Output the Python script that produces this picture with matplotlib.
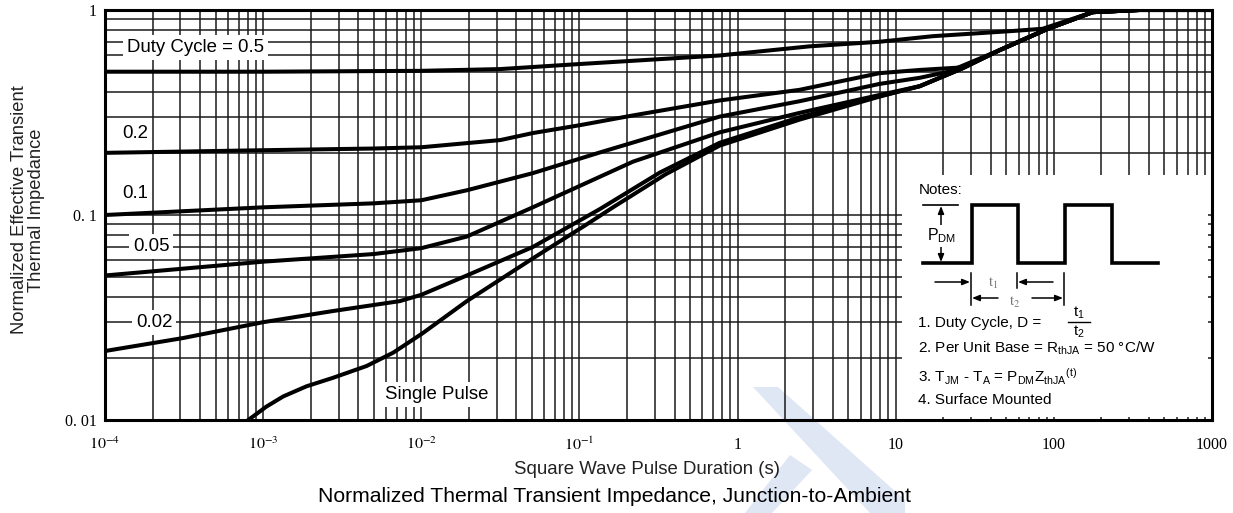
import matplotlib
matplotlib.use('Agg')
import matplotlib.pyplot as plt
from matplotlib.patches import Polygon
from matplotlib.ticker import NullFormatter

plt.rcParams['font.family'] = ['Liberation Sans', 'DejaVu Sans']
plt.rcParams['mathtext.fontset'] = 'custom'
plt.rcParams['mathtext.rm'] = 'Liberation Sans'
plt.rcParams['mathtext.it'] = 'Liberation Sans:italic'
plt.rcParams['mathtext.bf'] = 'Liberation Sans:bold'

# square wave pulse duration (s) vs normalized transient thermal impedance
t_d05 = [1e-4, 1e-3, 1e-2, 0.0316, 0.1, 0.77, 2.86, 7.9, 17.1, 55, 85, 176, 347, 1000]
z_d05 = [0.50, 0.50, 0.505, 0.515, 0.545, 0.60, 0.665, 0.70, 0.745, 0.79, 0.81, 0.976, 1.0, 1.0]

t_d02 = [1e-4, 1e-3, 5e-3, 1e-2, 0.0316, 0.0507, 0.1, 0.218, 0.77, 2.47, 7.9, 14.2, 26.5, 45, 90, 176, 347, 1000]
z_d02 = [0.201, 0.207, 0.211, 0.214, 0.232, 0.251, 0.274, 0.306, 0.362, 0.408, 0.492, 0.51, 0.525, 0.635, 0.805, 0.976, 1.0, 1.0]

t_d01 = [1e-4, 1e-3, 5e-3, 1e-2, 0.0194, 0.0507, 0.135, 0.77, 2.47, 7.9, 14.2, 21.5, 45, 90, 176, 347, 1000]
z_d01 = [0.100, 0.109, 0.114, 0.118, 0.132, 0.160, 0.202, 0.302, 0.359, 0.436, 0.467, 0.50, 0.635, 0.805, 0.976, 1.0, 1.0]

t_d005 = [1e-4, 1e-3, 5e-3, 1e-2, 0.0194, 0.0507, 0.218, 0.77, 2.47, 7.9, 14.2, 26.5, 45, 90, 176, 347, 1000]
z_d005 = [0.0507, 0.0592, 0.0645, 0.0689, 0.0785, 0.109, 0.182, 0.253, 0.315, 0.385, 0.425, 0.52, 0.635, 0.805, 0.976, 1.0, 1.0]

t_d002 = [1e-4, 3.11e-4, 1e-3, 2.76e-3, 7.3e-3, 1e-2, 0.0194, 0.0507, 0.135, 0.322, 0.77, 2.47, 7.9, 14.2, 26.5, 45, 90, 176, 347, 1000]
z_d002 = [0.0217, 0.0251, 0.0300, 0.034, 0.038, 0.0408, 0.0507, 0.0698, 0.107, 0.161, 0.225, 0.30, 0.38, 0.425, 0.52, 0.635, 0.805, 0.976, 1.0, 1.0]

t_single = [8.05e-4, 1.05e-3, 1.34e-3, 1.88e-3, 2.77e-3, 4.51e-3, 6.64e-3, 1.02e-2, 0.0194, 0.0507, 0.107, 0.163, 0.351, 0.77, 2.47, 7.9, 14.2, 26.5, 45, 90, 176, 347, 1000]
z_single = [0.0100, 0.01163, 0.01303, 0.0146, 0.01607, 0.01834, 0.0213, 0.0265, 0.038, 0.0614, 0.0883, 0.109, 0.158, 0.218, 0.292, 0.378, 0.425, 0.52, 0.635, 0.805, 0.976, 1.0, 1.0]

curves = [(t_d05, z_d05), (t_d02, z_d02), (t_d01, z_d01),
          (t_d005, z_d005), (t_d002, z_d002), (t_single, z_single)]

# curve labels: text, x, y
curve_labels = [
    ("Duty Cycle = 0.5", 1.38e-4, 0.657),
    ("0.2", 1.28e-4, 0.249),
    ("0.1", 1.28e-4, 0.128),
    ("0.05", 1.5e-4, 0.07),
    ("0.02", 1.57e-4, 0.03),
    ("Single Pulse", 5.9e-3, 0.0133),
]

x_ticks = [1e-4, 1e-3, 1e-2, 1e-1, 1, 10, 100, 1000]
x_ticklabels = [r'$10^{-4}$', r'$10^{-3}$', r'$10^{-2}$', r'$10^{-1}$', '1', '10', '100', '1000']
y_ticks = [0.01, 0.1, 1]
y_ticklabels = ['0. 01', '0. 1', '1']

W, H = 1233, 513
fig = plt.figure(figsize=(W / 100, H / 100), dpi=100)
fig.patch.set_facecolor('white')


def fpx(pts):
    return [(x / W, 1 - y / H) for x, y in pts]


# faint logo in the background
wm = '#dfe7f5'
fig.patches.append(Polygon(fpx([(753, 387), (778, 387), (905, 500), (905, 513), (870, 513)]),
                           closed=True, transform=fig.transFigure, facecolor=wm,
                           edgecolor='none', zorder=-5))
fig.patches.append(Polygon(fpx([(790, 455), (812, 470), (772, 513), (745, 513)]),
                           closed=True, transform=fig.transFigure, facecolor=wm,
                           edgecolor='none', zorder=-5))

ax = fig.add_axes([105 / W, 1 - 420 / H, 1107 / W, 410 / H])
ax.set_facecolor('none')
ax.set_xscale('log')
ax.set_yscale('log')
ax.set_xlim(1e-4, 1000)
ax.set_ylim(0.01, 1)
ax.set_axisbelow(True)
ax.grid(True, which='both', color='#1a1a1a', lw=1.1)

for t, z in curves:
    ax.plot(t, z, color='black', lw=2.9, solid_joinstyle='round', zorder=3)

for txt, x, y in curve_labels:
    ax.text(x, y, txt, fontsize=13.4, ha='left', va='center', zorder=4,
            bbox=dict(facecolor='white', edgecolor='none', pad=3))

ax.set_xticks(x_ticks, x_ticklabels, fontfamily='Liberation Serif', math_fontfamily='stix', fontsize=11.5)
ax.set_yticks(y_ticks, y_ticklabels, fontfamily='Liberation Serif', fontsize=11.5)
ax.xaxis.set_minor_formatter(NullFormatter())
ax.yaxis.set_minor_formatter(NullFormatter())
ax.tick_params(which='both', length=0)
ax.tick_params(axis='x', pad=12)
ax.tick_params(axis='y', pad=6)
for s in ax.spines.values():
    s.set_linewidth(2.2)

fig.text(28 / W, 1 - 210 / H, 'Normalized Effective Transient\nThermal Impedance', rotation=90,
         ha='center', va='center', fontsize=13.2, color='#222', linespacing=0.95)
fig.text(647 / W, 1 - 470 / H, 'Square Wave Pulse Duration (s)', ha='center', va='center',
         fontsize=13.4, color='#222')
fig.text(615 / W, 1 - 497 / H, 'Normalized Thermal Transient Impedance, Junction-to-Ambient',
         ha='center', va='center', fontsize=15.2, color='black')

# notes panel, drawn in pixel units
nx = fig.add_axes([902 / W, 1 - 417 / H, 306 / W, 242 / H])
nx.set_xlim(902, 1208)
nx.set_ylim(417, 175)
nx.set_xticks([])
nx.set_yticks([])
for s in nx.spines.values():
    s.set_visible(False)

nfs = 11
nx.text(919, 190, 'Notes:', fontsize=nfs, va='center', ha='left')
nx.plot([923, 972, 972, 1018, 1018, 1065, 1065, 1112, 1112, 1158],
        [263, 263, 205, 205, 263, 263, 205, 205, 263, 263], color='black', lw=2.6,
        solid_joinstyle='miter')
nx.plot([923, 958], [205, 205], color='black', lw=1.2)
nx.annotate('', xy=(941, 206), xytext=(941, 262),
            arrowprops=dict(arrowstyle='<|-|>,head_length=0.45,head_width=0.18',
                            color='black', lw=1.1, shrinkA=0, shrinkB=0))
nx.text(942, 236, r'P$_{\mathrm{DM}}$', fontsize=nfs + 0.5, ha='center', va='center',
        bbox=dict(facecolor='white', edgecolor='none', pad=1))


def arrow(x0, y0, x1, y1):
    nx.annotate('', xy=(x1, y1), xytext=(x0, y0),
                arrowprops=dict(arrowstyle='-|>,head_length=0.45,head_width=0.18',
                                color='black', lw=1.1, shrinkA=0, shrinkB=0))


nx.plot([971, 971], [273, 305], color='black', lw=1.1)
nx.plot([1017, 1017], [273, 288], color='black', lw=1.1)
nx.plot([1064, 1064], [273, 305], color='black', lw=1.1)
arrow(935, 282, 970, 282)
arrow(1053, 282, 1018, 282)
arrow(998, 298, 972, 298)
arrow(1032, 298, 1063, 298)
nx.text(993, 283, r'$\mathrm{t_1}$', fontsize=10.5, ha='center', va='center', color='#777',
        math_fontfamily='stix')
nx.text(1015, 302, r'$\mathrm{t_2}$', fontsize=10.5, ha='center', va='center', color='#777',
        math_fontfamily='stix')

nx.text(918, 323, '1. Duty Cycle, D =', fontsize=nfs, ha='left', va='center')
nx.text(1079, 313, r't$_{1}$', fontsize=nfs, ha='center', va='center')
nx.plot([1068, 1090], [322, 322], color='black', lw=1.0)
nx.text(1079, 332, r't$_{2}$', fontsize=nfs, ha='center', va='center')
nx.text(918, 348, r'2. Per Unit Base = R$_{\mathrm{thJA}}$ = 50 °C/W', fontsize=nfs,
        ha='left', va='center')
nx.text(918, 377, r'3. T$_{\mathrm{JM}}$ - T$_{\mathrm{A}}$ = P$_{\mathrm{DM}}$Z$_{\mathrm{thJA}}$$^{\mathrm{(t)}}$',
        fontsize=nfs, ha='left', va='center')
nx.text(918, 400, '4. Surface Mounted', fontsize=nfs, ha='left', va='center')

fig.savefig('out.png', dpi=100)
